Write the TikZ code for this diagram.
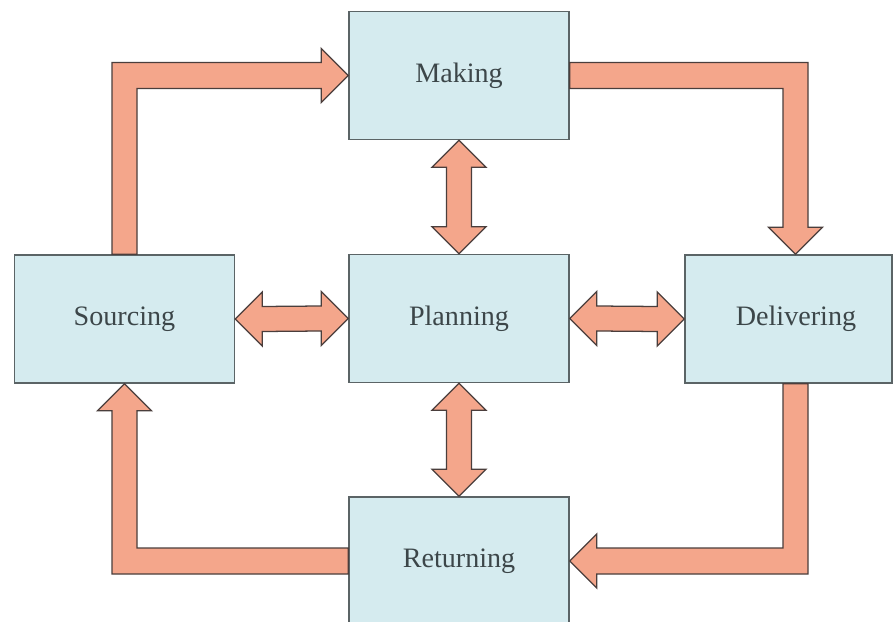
\documentclass[tikz,border=0pt]{standalone}
\usepackage{fontspec}
\setmainfont{Liberation Serif}
\usetikzlibrary{calc}
\definecolor{boxblue}{HTML}{D5EBEF}
\definecolor{boxline}{HTML}{5B6466}
\definecolor{arrowfill}{HTML}{F4A68B}
\definecolor{arrowline}{HTML}{4A3E3C}
\definecolor{labeltext}{HTML}{3C4649}
\begin{document}
\begin{tikzpicture}[x=0.025cm,y=-0.025cm,
    box/.style={draw=boxline,fill=boxblue,line width=1pt,minimum width=5.5cm,
      minimum height=3.2cm,inner sep=0pt,text=labeltext,font=\fontsize{20}{24}\selectfont},
    fat/.style={draw=arrowline,fill=arrowfill,line width=0.9pt,line join=miter}]
  \useasboundingbox (0,0) rectangle (894,622);
  % boxes
  \node[box] (making) at (459,75.5) {Making};
  \node[box] (sourcing) at (124.5,319) {Sourcing};
  \node[box] (planning) at (459,318.5) {Planning};
  \node[box,minimum width=5.175cm] (delivering) at (788.5,319) {\hspace{0.375cm}Delivering};
  \node[box] (returning) at (459,561) {Returning};
  \coordinate (dtop) at ($(delivering.north)+(7,0)$);
  \coordinate (dbot) at ($(delivering.south)+(7,0)$);
  % outer cycle
  \draw[fat] ($(sourcing.north)+(-12.5,0)$) |- ($(making.west)+(-27,-13)$) -- ++(0,-14)
    -- (making.west) -- ($(making.west)+(-27,27)$) -- ++(0,-14)
    -| ($(sourcing.north)+(12.5,0)$) -- cycle;
  \draw[fat] ($(making.east)+(0,-13)$) -| ($(dtop)+(12.5,-27)$) -- ++(14.5,0)
    -- (dtop) -- ($(dtop)+(-27,-27)$) -- ++(14.5,0)
    |- ($(making.east)+(0,13)$) -- cycle;
  \draw[fat] ($(dbot)+(-12.5,0)$) |- ($(returning.east)+(27,-13)$) -- ++(0,-14)
    -- (returning.east) -- ($(returning.east)+(27,27)$) -- ++(0,-14)
    -| ($(dbot)+(12.5,0)$) -- cycle;
  \draw[fat] ($(returning.west)+(0,-13)$) -| ($(sourcing.south)+(12.5,27)$) -- ++(14.5,0)
    -- (sourcing.south) -- ($(sourcing.south)+(-27,27)$) -- ++(14.5,0)
    |- ($(returning.west)+(0,13)$) -- cycle;
  % links to planning
  \draw[fat] (making.south) -- ($(making.south)+(27,27)$) -- ++(-14.5,0)
    -- ($(planning.north)+(12.5,-27)$) -- ++(14.5,0) -- (planning.north)
    -- ($(planning.north)+(-27,-27)$) -- ++(14.5,0)
    -- ($(making.south)+(-12.5,27)$) -- ++(-14.5,0) -- cycle;
  \draw[fat] (planning.south) -- ($(planning.south)+(27,27)$) -- ++(-14.5,0)
    -- ($(returning.north)+(12.5,-27)$) -- ++(14.5,0) -- (returning.north)
    -- ($(returning.north)+(-27,-27)$) -- ++(14.5,0)
    -- ($(planning.south)+(-12.5,27)$) -- ++(-14.5,0) -- cycle;
  \draw[fat] (sourcing.east) -- ($(sourcing.east)+(27,-27)$) -- ++(0,14.5)
    -- ($(planning.west)+(-27,-12.5)$) -- ++(0,-14.5) -- (planning.west)
    -- ($(planning.west)+(-27,27)$) -- ++(0,-14.5)
    -- ($(sourcing.east)+(27,12.5)$) -- ++(0,14.5) -- cycle;
  \draw[fat] (planning.east) -- ($(planning.east)+(27,-27)$) -- ++(0,14.5)
    -- ($(delivering.west)+(-27,-12.5)$) -- ++(0,-14.5) -- (delivering.west)
    -- ($(delivering.west)+(-27,27)$) -- ++(0,-14.5)
    -- ($(planning.east)+(27,12.5)$) -- ++(0,14.5) -- cycle;
\end{tikzpicture}
\end{document}
